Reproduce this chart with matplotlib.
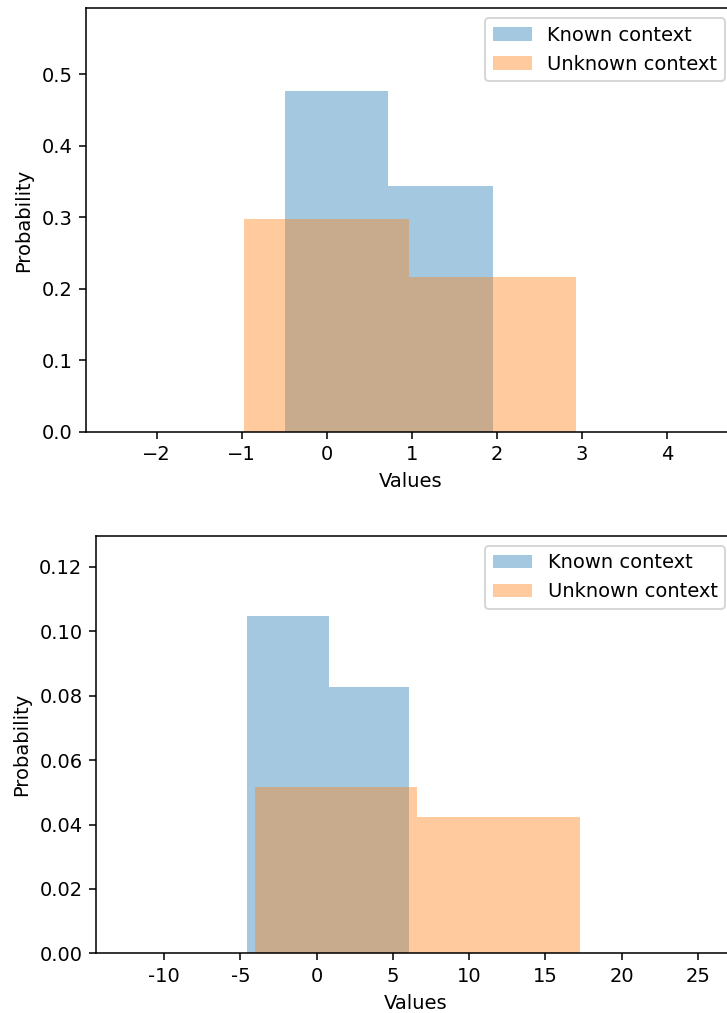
import numpy as np
import matplotlib
matplotlib.use("Agg")
import matplotlib.pyplot as plt

# histogram bins and densities, first experiment
known_edges_a   = [-0.49, 0.72, 1.95]
known_dens_a    = [0.477, 0.343]
unknown_edges_a = [-0.976, 0.97, 2.93]
unknown_dens_a  = [0.297, 0.216]

# second experiment (wider spread)
known_edges_b   = [-4.56, 0.83, 6.09]
known_dens_b    = [0.1048, 0.0828]
unknown_edges_b = [-4.07, 6.58, 17.29]
unknown_dens_b  = [0.0518, 0.0423]

ticks_b  = [-10, -5, 0, 5, 10, 15, 20, 25]
labels_b = ["-10", "-5", "0", "5", "10", "15", "20", "25"]

fig = plt.figure(figsize=(727 / 140, 1013 / 140), dpi=140)
ax1 = fig.add_axes([0.1183, 0.5738, 0.8927, 0.4180])
ax2 = fig.add_axes([0.1321, 0.0589, 0.8790, 0.4120])


def draw(ax, k_edges, k_dens, u_edges, u_dens):
    ax.hist(k_edges[:-1], bins=k_edges, weights=k_dens, alpha=0.4,
            label="Known context")
    ax.hist(u_edges[:-1], bins=u_edges, weights=u_dens, alpha=0.4,
            label="Unknown context")
    ax.set_xlabel("Values")
    ax.set_ylabel("Probability")
    ax.legend(loc="upper right")


draw(ax1, known_edges_a, known_dens_a, unknown_edges_a, unknown_dens_a)
ax1.set_xlim(-2.83, 4.80)
ax1.set_ylim(0, 0.592)

draw(ax2, known_edges_b, known_dens_b, unknown_edges_b, unknown_dens_b)
ax2.set_xlim(-14.47, 27.45)
ax2.set_ylim(0, 0.1296)
ax2.set_xticks(ticks_b)
ax2.set_xticklabels(labels_b)

fig.savefig("out.png", dpi=140)
